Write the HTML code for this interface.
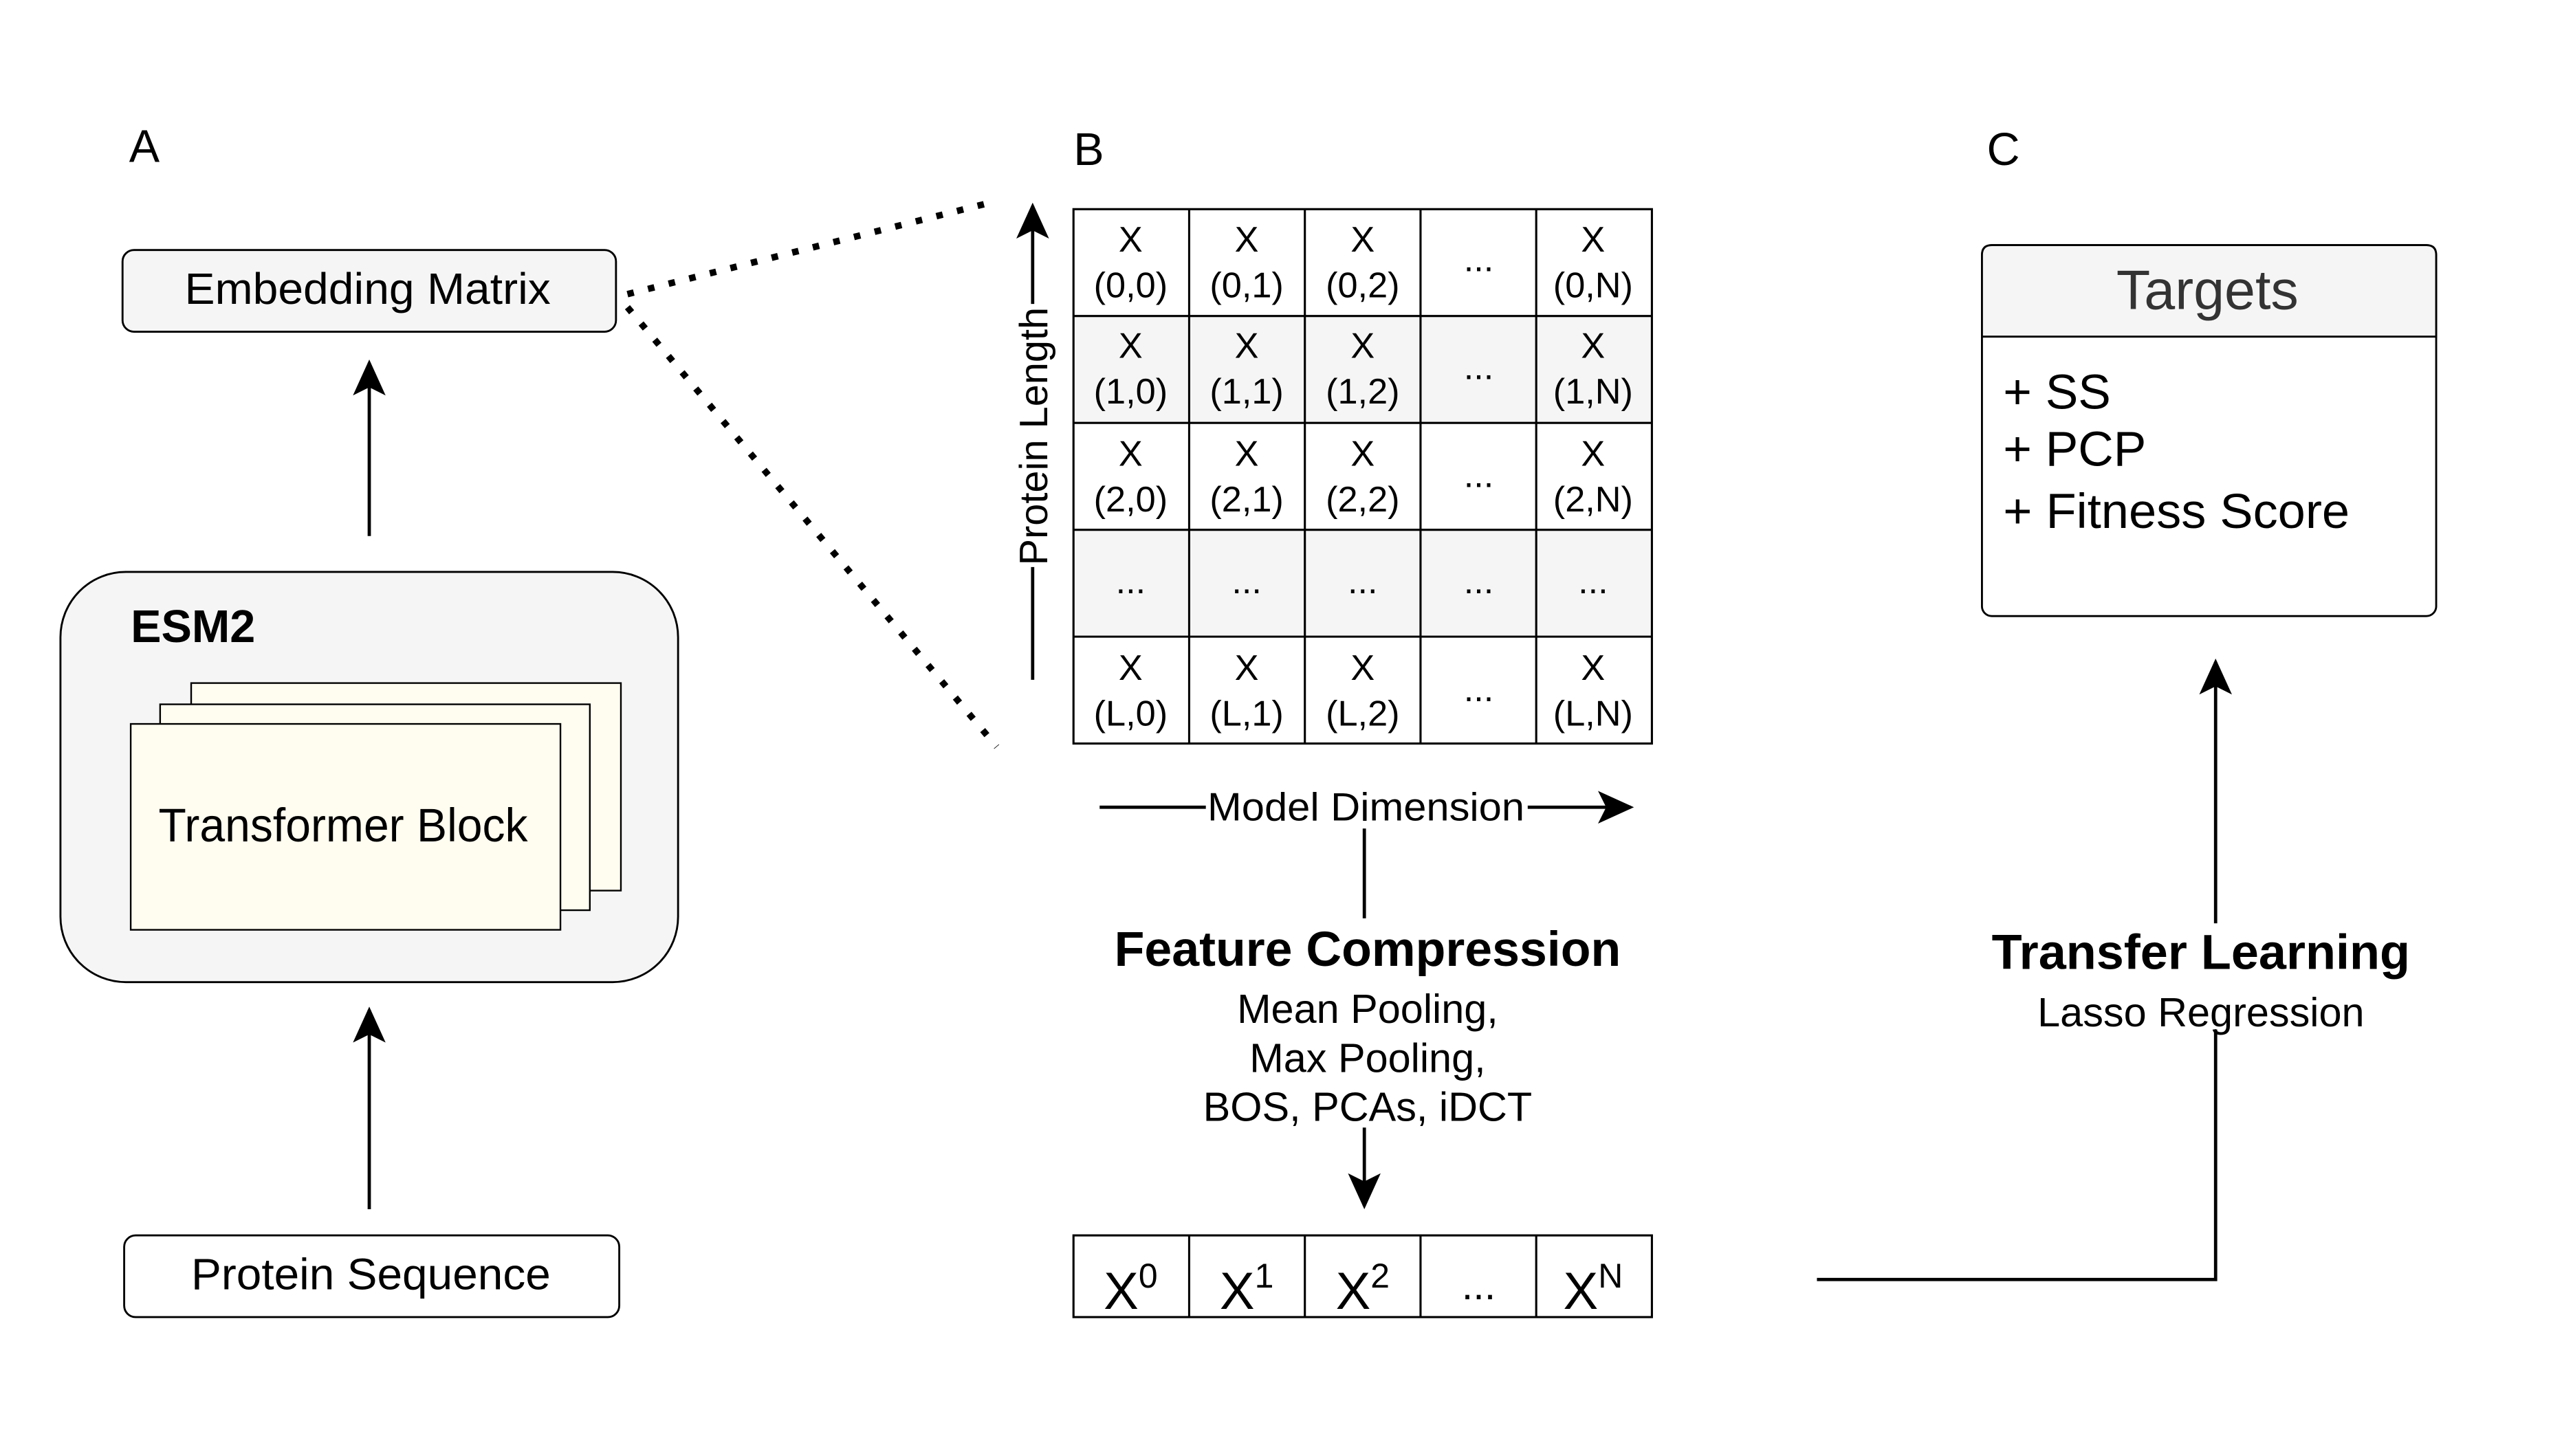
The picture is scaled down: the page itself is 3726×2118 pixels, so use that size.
<!DOCTYPE html>
<html><head><meta charset="utf-8"><style>
html,body{margin:0;padding:0;background:#fff;}
svg{display:block;font-family:"Liberation Sans",Arial,sans-serif;}
</style></head><body>
<svg width="3726" height="2118" viewBox="0 0 1568 891" preserveAspectRatio="none" xmlns="http://www.w3.org/2000/svg">
<defs>
<marker id="ahb" markerWidth="22" markerHeight="20" refX="20" refY="10" orient="auto" markerUnits="userSpaceOnUse">
<path d="M0,0 L22,10 L0,20 L5,10 Z" fill="#000"/></marker>
</defs>
<g fill="#000">
<text x="79" y="99" font-size="28">A</text>
<text x="657" y="101" font-size="28">B</text>
<text x="1216" y="101" font-size="28">C</text>
</g>
<rect x="75" y="153" width="302" height="50" rx="7" fill="#f5f5f5" stroke="#000" stroke-width="1.2"/>
<text x="225" y="186" font-size="27" text-anchor="middle" textLength="224" lengthAdjust="spacingAndGlyphs">Embedding Matrix</text>
<line x1="226" y1="328" x2="226" y2="222" stroke="#000" stroke-width="2" marker-end="url(#ahb)"/>
<rect x="37" y="350" width="378" height="251" rx="40" fill="#f5f5f5" stroke="#000" stroke-width="1.2"/>
<text x="80" y="393" font-size="28" font-weight="bold">ESM2</text>
<rect x="117" y="418" width="263" height="127" fill="#fffcf0" stroke="#000" stroke-width="1"/>
<rect x="98" y="431" width="263" height="126" fill="#fffcf0" stroke="#000" stroke-width="1"/>
<rect x="80" y="443" width="263" height="126" fill="#fffcf0" stroke="#000" stroke-width="1"/>
<text x="210" y="515" font-size="29" text-anchor="middle" textLength="226" lengthAdjust="spacingAndGlyphs">Transformer Block</text>
<line x1="226" y1="740" x2="226" y2="618" stroke="#000" stroke-width="2" marker-end="url(#ahb)"/>
<rect x="76" y="756" width="303" height="50" rx="7" fill="#fff" stroke="#000" stroke-width="1.2"/>
<text x="227" y="789" font-size="27" text-anchor="middle" textLength="220" lengthAdjust="spacingAndGlyphs">Protein Sequence</text>
<line x1="384" y1="180" x2="610" y2="123" stroke="#000" stroke-width="4" stroke-dasharray="4 9"/>
<line x1="384" y1="188" x2="610" y2="457" stroke="#000" stroke-width="4" stroke-dasharray="4 9"/>
<rect x="657" y="193.4" width="354" height="65.4" fill="#f5f5f5"/>
<rect x="657" y="324.2" width="354" height="65.4" fill="#f5f5f5"/>
<g stroke="#000" stroke-width="1.3" fill="none">
<rect x="657" y="128" width="354" height="327"/>
<line x1="727.8" y1="128" x2="727.8" y2="455"/><line x1="798.6" y1="128" x2="798.6" y2="455"/>
<line x1="869.4" y1="128" x2="869.4" y2="455"/><line x1="940.2" y1="128" x2="940.2" y2="455"/>
<line x1="657" y1="193.4" x2="1011" y2="193.4"/><line x1="657" y1="258.8" x2="1011" y2="258.8"/>
<line x1="657" y1="324.2" x2="1011" y2="324.2"/><line x1="657" y1="389.6" x2="1011" y2="389.6"/>
</g>
<g font-size="22" text-anchor="middle">
<text x="692" y="154">X</text><text x="692" y="182">(0,0)</text>
<text x="763" y="154">X</text><text x="763" y="182">(0,1)</text>
<text x="834" y="154">X</text><text x="834" y="182">(0,2)</text>
<text x="905" y="166">...</text>
<text x="975" y="154">X</text><text x="975" y="182">(0,N)</text>
<text x="692" y="219">X</text><text x="692" y="247">(1,0)</text>
<text x="763" y="219">X</text><text x="763" y="247">(1,1)</text>
<text x="834" y="219">X</text><text x="834" y="247">(1,2)</text>
<text x="905" y="232">...</text>
<text x="975" y="219">X</text><text x="975" y="247">(1,N)</text>
<text x="692" y="285">X</text><text x="692" y="313">(2,0)</text>
<text x="763" y="285">X</text><text x="763" y="313">(2,1)</text>
<text x="834" y="285">X</text><text x="834" y="313">(2,2)</text>
<text x="905" y="298">...</text>
<text x="975" y="285">X</text><text x="975" y="313">(2,N)</text>
<text x="692" y="363">...</text><text x="763" y="363">...</text><text x="834" y="363">...</text><text x="905" y="363">...</text><text x="975" y="363">...</text>
<text x="692" y="416">X</text><text x="692" y="444">(L,0)</text>
<text x="763" y="416">X</text><text x="763" y="444">(L,1)</text>
<text x="834" y="416">X</text><text x="834" y="444">(L,2)</text>
<text x="905" y="429">...</text>
<text x="975" y="416">X</text><text x="975" y="444">(L,N)</text>
</g>
<line x1="632" y1="416" x2="632" y2="347" stroke="#000" stroke-width="2"/>
<line x1="632" y1="186" x2="632" y2="126" stroke="#000" stroke-width="2" marker-end="url(#ahb)"/>
<text transform="translate(641,267) rotate(-90)" font-size="24" text-anchor="middle" textLength="158" lengthAdjust="spacingAndGlyphs">Protein Length</text>
<line x1="673" y1="494" x2="738" y2="494" stroke="#000" stroke-width="2"/>
<line x1="935" y1="494" x2="998" y2="494" stroke="#000" stroke-width="2" marker-end="url(#ahb)"/>
<text x="836" y="502" font-size="24" text-anchor="middle" textLength="194" lengthAdjust="spacingAndGlyphs">Model Dimension</text>
<line x1="835" y1="507" x2="835" y2="562" stroke="#000" stroke-width="2"/>
<text x="837" y="591" font-size="30" font-weight="bold" text-anchor="middle" textLength="310" lengthAdjust="spacingAndGlyphs">Feature Compression</text>
<g font-size="25" text-anchor="middle">
<text x="837" y="626">Mean Pooling,</text>
<text x="837" y="656">Max Pooling,</text>
<text x="837" y="686">BOS, PCAs, iDCT</text>
</g>
<line x1="835" y1="690" x2="835" y2="738" stroke="#000" stroke-width="2" marker-end="url(#ahb)"/>
<g stroke="#000" stroke-width="1.3" fill="none">
<rect x="657" y="756" width="354" height="50"/>
<line x1="727.8" y1="756" x2="727.8" y2="806"/><line x1="798.6" y1="756" x2="798.6" y2="806"/>
<line x1="869.4" y1="756" x2="869.4" y2="806"/><line x1="940.2" y1="756" x2="940.2" y2="806"/>
</g>
<g font-size="32" text-anchor="middle">
<text x="692" y="801">X<tspan font-size="21" dy="-13">0</tspan></text>
<text x="763" y="801">X<tspan font-size="21" dy="-13">1</tspan></text>
<text x="834" y="801">X<tspan font-size="21" dy="-13">2</tspan></text>
<text x="905" y="795" font-size="25">...</text>
<text x="975" y="801">X<tspan font-size="21" dy="-13">N</tspan></text>
</g>
<polyline points="1112,783 1356,783 1356,630" fill="none" stroke="#000" stroke-width="2"/>
<text x="1347" y="593" font-size="30" font-weight="bold" text-anchor="middle" textLength="256" lengthAdjust="spacingAndGlyphs">Transfer Learning</text>
<text x="1347" y="628" font-size="25" text-anchor="middle">Lasso Regression</text>
<line x1="1356" y1="565" x2="1356" y2="405" stroke="#000" stroke-width="2" marker-end="url(#ahb)"/>
<rect x="1213" y="150" width="278" height="227" rx="6" fill="#fff" stroke="#000" stroke-width="1.2"/>
<path d="M1213,206 V156 Q1213,150 1219,150 H1485 Q1491,150 1491,156 V206 Z" fill="#f5f5f5" stroke="#000" stroke-width="1.2"/>
<text x="1351" y="189" font-size="34" fill="#333" text-anchor="middle">Targets</text>
<g font-size="30">
<text x="1226" y="250">+ SS</text>
<text x="1226" y="285">+ PCP</text>
<text x="1226" y="323" textLength="212" lengthAdjust="spacingAndGlyphs">+ Fitness Score</text>
</g>
</svg>
</body></html>
